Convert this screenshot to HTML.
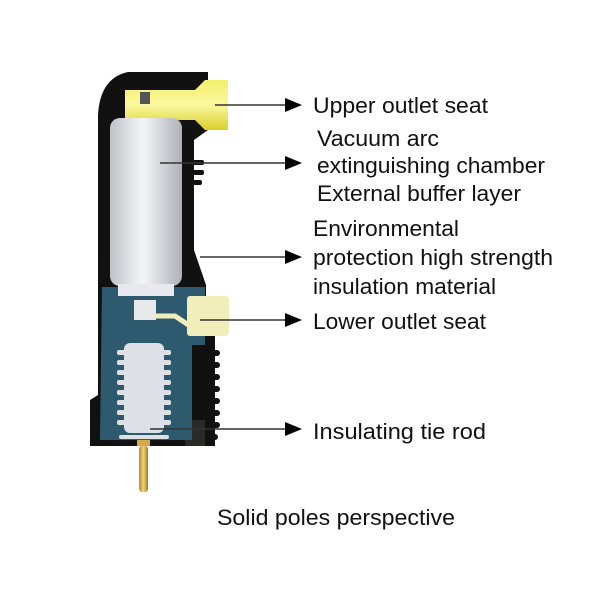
<!DOCTYPE html>
<html><head><style>
body{margin:0;background:#fff;}
</style></head><body>
<svg width="600" height="600" viewBox="0 0 600 600" xmlns="http://www.w3.org/2000/svg">
<defs>
<linearGradient id="cyl" x1="0" x2="1"><stop offset="0" stop-color="#bfc2c8"/><stop offset="0.45" stop-color="#f4f5f7"/><stop offset="1" stop-color="#aeb2b8"/></linearGradient>
<linearGradient id="yel" x1="0" x2="0" y1="0" y2="1"><stop offset="0" stop-color="#f3ef6a"/><stop offset="0.5" stop-color="#fbf8a0"/><stop offset="1" stop-color="#d8cf2a"/></linearGradient>
<linearGradient id="gold" x1="0" x2="1"><stop offset="0" stop-color="#b88a2a"/><stop offset="0.5" stop-color="#f0d27a"/><stop offset="1" stop-color="#a87a20"/></linearGradient>
</defs>
<path d="M98 115 Q100 78 128 72 L208 72 L208 130 L194 140 L194 250 L206 285 L206 300 L215 300 L215 446 L90 446 L90 400 L98 395 Z" fill="#111"/>
<g fill="#111"><rect x="190" y="160" width="14" height="5" rx="2"/><rect x="190" y="170" width="14" height="5" rx="2"/><rect x="190" y="180" width="12" height="5" rx="2"/></g>
<g fill="#111">
<rect x="200" y="350" width="20" height="6" rx="3"/><rect x="200" y="362" width="20" height="6" rx="3"/><rect x="200" y="374" width="20" height="6" rx="3"/><rect x="200" y="386" width="20" height="6" rx="3"/><rect x="200" y="398" width="20" height="6" rx="3"/><rect x="200" y="410" width="20" height="6" rx="3"/><rect x="200" y="422" width="20" height="6" rx="3"/><rect x="200" y="434" width="18" height="6" rx="3"/></g>
<rect x="185" y="420" width="20" height="26" fill="#2a2a28"/>
<path d="M102 287 L205 287 L205 345 L192 345 L192 440 L100 440 Z" fill="#2e5a70"/>
<path d="M125 90 L195 90 L205 80 L228 80 L228 130 L205 130 L195 120 L125 120 Z" fill="url(#yel)"/>
<rect x="140" y="92" width="10" height="12" fill="#555"/>
<line x1="215" y1="105" x2="290" y2="105" stroke="#333" stroke-width="1.5"/>
<rect x="110" y="118" width="72" height="168" rx="10" fill="url(#cyl)"/>
<rect x="118" y="284" width="56" height="12" fill="#e8e9ec"/>
<rect x="187" y="296" width="42" height="40" rx="3" fill="#f2eebb"/>
<path d="M140 316 L175 316 L190 326" stroke="#f2eebb" stroke-width="5" fill="none"/>
<rect x="134" y="300" width="22" height="20" fill="#e6e8ea"/>
<g fill="#dde0e4">
<rect x="124" y="343" width="40" height="90" rx="6"/>
<rect x="117" y="350" width="54" height="5" rx="2"/><rect x="117" y="360" width="54" height="5" rx="2"/><rect x="117" y="370" width="54" height="5" rx="2"/><rect x="117" y="380" width="54" height="5" rx="2"/><rect x="117" y="390" width="54" height="5" rx="2"/><rect x="117" y="400" width="54" height="5" rx="2"/><rect x="117" y="410" width="54" height="5" rx="2"/><rect x="117" y="420" width="54" height="5" rx="2"/><rect x="119" y="435" width="50" height="4" rx="2"/>
</g>
<rect x="137" y="440" width="13" height="6" fill="#d9a64a"/>
<rect x="139" y="446" width="9" height="46" rx="3" fill="url(#gold)"/>
<g stroke="#333" stroke-width="1.5">
<line x1="160" y1="163" x2="290" y2="163"/>
<line x1="200" y1="257" x2="290" y2="257"/>
<line x1="200" y1="320" x2="290" y2="320"/>
<line x1="150" y1="429" x2="290" y2="429"/>
</g>
<g fill="#000">
<polygon points="285,98 302,105 285,112"/>
<polygon points="285,156 302,163 285,170"/>
<polygon points="285,250 302,257 285,264"/>
<polygon points="285,313 302,320 285,327"/>
<polygon points="285,422 302,429 285,436"/>
</g>
<g font-family="Liberation Sans, sans-serif" font-size="22.5" fill="#111" lengthAdjust="spacingAndGlyphs">
<text x="313" y="113" textLength="175" lengthAdjust="spacingAndGlyphs">Upper outlet seat</text>
<text x="317" y="146" textLength="122" lengthAdjust="spacingAndGlyphs">Vacuum arc</text>
<text x="317" y="173" textLength="228" lengthAdjust="spacingAndGlyphs">extinguishing chamber</text>
<text x="317" y="201" textLength="204" lengthAdjust="spacingAndGlyphs">External buffer layer</text>
<text x="313" y="236" textLength="146" lengthAdjust="spacingAndGlyphs">Environmental</text>
<text x="313" y="265" textLength="240" lengthAdjust="spacingAndGlyphs">protection high strength</text>
<text x="313" y="294" textLength="183" lengthAdjust="spacingAndGlyphs">insulation material</text>
<text x="313" y="329" textLength="173" lengthAdjust="spacingAndGlyphs">Lower outlet seat</text>
<text x="313" y="439" textLength="173" lengthAdjust="spacingAndGlyphs">Insulating tie rod</text>
<text x="217" y="525" textLength="238" lengthAdjust="spacingAndGlyphs">Solid poles perspective</text>
</g>
</svg>
</body></html>
